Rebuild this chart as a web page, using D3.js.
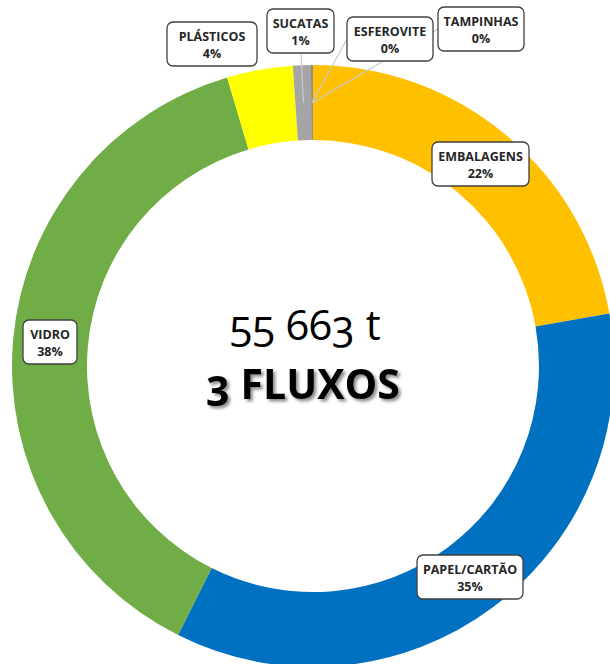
<!DOCTYPE html>
<html>
<head>
<meta charset="utf-8">
<script src="https://cdn.jsdelivr.net/npm/d3@7"></script>
<style>
  html, body { margin: 0; padding: 0; background: #fff; }
  svg { display: block; }
</style>
</head>
<body>
<svg id="chart" width="610" height="664"></svg>
<script>
// Waste streams (tonnes), clockwise from 12 o'clock
const categories = ["EMBALAGENS", "PAPEL/CARTÃO", "VIDRO", "PLÁSTICOS", "SUCATAS", "ESFEROVITE", "TAMPINHAS"];
const tonnes     = [12360, 19590, 21150, 1970, 540, 38, 15];
const colors     = ["#FFC000", "#0070C0", "#70AD47", "#FFFF00", "#A5A5A5", "#8C6A3C", "#5B6E8A"];
const centerLines = ["55 663 t", "3 FLUXOS"];

// Label callout boxes: [left, top, width, height]
const labelBoxes = {
  "EMBALAGENS":   [432, 142, 97, 44],
  "PAPEL/CARTÃO": [417, 555, 106, 44],
  "VIDRO":        [23, 320, 54, 44],
  "PLÁSTICOS":    [167, 22, 90, 44],
  "SUCATAS":      [267, 9, 67, 44],
  "ESFEROVITE":   [347, 17, 86, 44],
  "TAMPINHAS":    [438, 7, 86, 44]
};
// Where a leader line leaves its box (only for the small slices)
const leaderStarts = {
  "SUCATAS":    [301, 53],
  "ESFEROVITE": [347, 39],
  "TAMPINHAS":  [438, 29]
};

const cx = 313, cy = 366, rOuter = 301, rInner = 226;
const total = d3.sum(tonnes);
const data = categories.map((c, i) => ({ name: c, value: tonnes[i], color: colors[i] }));

const svg = d3.select("#chart");
const defs = svg.append("defs");
const shadow = defs.append("filter").attr("id", "txtShadow")
  .attr("x", "-10%").attr("y", "-20%").attr("width", "130%").attr("height", "160%");
shadow.append("feDropShadow")
  .attr("dx", 2.5).attr("dy", 2.5).attr("stdDeviation", 1.4)
  .attr("flood-color", "#000").attr("flood-opacity", 0.45);

const pie = d3.pie().value(d => d.value).sort(null).startAngle(0).endAngle(2 * Math.PI);
const arc = d3.arc().innerRadius(rInner).outerRadius(rOuter);
const arcs = pie(data);

const g = svg.append("g").attr("transform", `translate(${cx},${cy})`);
g.selectAll("path.slice")
  .data(arcs)
  .join("path")
  .attr("class", "slice")
  .attr("d", arc)
  .attr("fill", d => d.data.color);

// Leader lines from callouts to slice centroids
const lines = svg.append("g");
arcs.forEach(a => {
  const s = leaderStarts[a.data.name];
  if (!s) return;
  const [mx, my] = arc.centroid(a);
  lines.append("line")
    .attr("x1", s[0]).attr("y1", s[1])
    .attr("x2", cx + mx).attr("y2", cy + my)
    .attr("stroke", "#C3CCD8").attr("stroke-width", 1.2);
});

// Callout boxes
const labels = svg.append("g")
  .style("font-family", "'Open Sans', 'DejaVu Sans', sans-serif")
  .style("font-weight", 700)
  .style("font-size", "12.5px")
  .attr("fill", "#262626");

arcs.forEach(a => {
  const b = labelBoxes[a.data.name];
  const pct = Math.round(a.data.value / total * 100) + "%";
  const lg = labels.append("g").attr("transform", `translate(${b[0]},${b[1]})`);
  lg.append("rect")
    .attr("width", b[2]).attr("height", b[3])
    .attr("rx", 6).attr("ry", 6)
    .attr("fill", "#fff").attr("stroke", "#404040").attr("stroke-width", 1.3);
  lg.append("text").attr("x", b[2] / 2).attr("y", 18.5)
    .attr("text-anchor", "middle").text(a.data.name);
  lg.append("text").attr("x", b[2] / 2).attr("y", 35.5)
    .attr("text-anchor", "middle").text(pct);
});

// Centre text
svg.append("text")
  .attr("x", 305).attr("y", 340)
  .attr("text-anchor", "middle")
  .style("font-family", "'Open Sans', sans-serif")
  .style("font-size", "42px")
  .style("font-variant-numeric", "oldstyle-nums")
  .attr("fill", "#000")
  .text(centerLines[0]);

svg.append("text")
  .attr("x", 303).attr("y", 399)
  .attr("text-anchor", "middle")
  .style("font-family", "'Open Sans', sans-serif")
  .style("font-size", "41px")
  .style("font-weight", 700)
  .style("font-variant-numeric", "oldstyle-nums")
  .attr("fill", "#000")
  .attr("filter", "url(#txtShadow)")
  .text(centerLines[1]);
</script>
</body>
</html>
